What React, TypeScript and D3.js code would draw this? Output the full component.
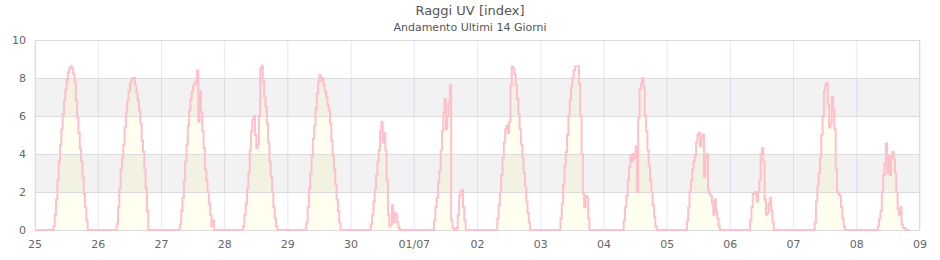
import React from "react";
import * as d3 from "d3";

const title = "Raggi UV [index]";
const subtitle = "Andamento Ultimi 14 Giorni";
const tickLabels = ["25", "26", "27", "28", "29", "30", "01/07", "02", "03", "04", "05", "06", "07", "08", "09"];
const yTicks = [0, 2, 4, 6, 8, 10];

// half-hourly UV index per day, starting at 06:00
const d25 = [0, 0, 0.2, 0.8, 1.6, 2.6, 3.6, 4.5, 5.3, 6.1, 6.8, 7.4, 7.9, 8.3, 8.5, 8.6, 8.5, 8.2, 7.8, 6.8, 5.9, 5.1, 4.3, 3.6, 2.8, 1.9, 1.2, 0.5, 0];
const d26 = [0, 0, 0.3, 1.2, 2.2, 3.2, 3.8, 4.5, 5.4, 6.2, 6.8, 7.3, 7.7, 7.9, 8.0, 8.0, 7.6, 7.2, 6.8, 6.3, 5.6, 4.7, 4.1, 3.2, 2.2, 1.0, 0];
const d27 = [0, 0, 0.3, 1.0, 1.7, 2.6, 3.6, 4.5, 5.5, 6.3, 6.9, 7.3, 7.6, 7.8, 7.7, 8.4, 5.7, 7.3, 6.2, 5.2, 4.3, 3.2, 2.6, 2.0, 1.4, 0.8, 0.2, 0.5, 0];
const d28 = [0, 0, 0.2, 0.8, 1.4, 2.2, 3.0, 4.2, 5.2, 5.8, 6.0, 5.0, 4.3, 4.5, 6.0, 8.5, 8.65, 7.8, 7.0, 6.5, 5.6, 4.6, 3.6, 2.8, 2.0, 1.2, 0.6, 0.2, 0];
const d29 = [0, 0, 0.4, 1.2, 2.2, 3.0, 3.9, 4.8, 5.5, 6.4, 7.2, 7.8, 8.15, 7.9, 8.0, 7.6, 7.3, 7.0, 6.6, 6.3, 5.6, 4.7, 3.9, 3.2, 2.4, 1.6, 1.0, 0.4, 0];
const d30 = [0, 0, 0, 0.3, 0.8, 1.5, 2.2, 2.9, 3.6, 4.2, 5.2, 5.7, 4.6, 5.1, 4.2, 2.6, 0.8, 0.2, 0.3, 1.3, 0.4, 0.9, 0.8, 0.4, 0.1, 0];
const d01 = [0, 0, 0, 0.5, 1.2, 1.7, 2.5, 3.1, 4.2, 5.2, 6.2, 6.9, 5.3, 6.0, 6.7, 7.6, 0.5, 0.1, 0, 0, 0.1, 0.8, 1.8, 2.0, 2.1, 1.2, 0.5, 0];
const d02 = [0, 0, 0, 0.6, 1.3, 2.0, 2.9, 3.8, 4.6, 5.3, 5.5, 5.1, 5.7, 7.6, 8.6, 8.5, 8.2, 7.6, 6.9, 6.1, 5.3, 4.5, 3.8, 3.0, 2.3, 1.5, 0.9, 0.4, 0];
const d03 = [0, 0, 0, 0.6, 1.4, 2.4, 3.4, 4.1, 5.0, 6.0, 6.8, 7.5, 8.0, 8.4, 8.6, 8.6, 8.6, 7.7, 6.0, 4.0, 1.9, 1.2, 1.8, 1.7, 0.6, 0];
const d04 = [0, 0, 0, 0.5, 1.2, 1.8, 2.6, 3.3, 3.9, 3.6, 4.0, 3.8, 4.4, 2.0, 5.9, 7.4, 7.7, 8.0, 7.5, 6.0, 5.2, 4.2, 3.4, 2.6, 2.0, 1.3, 0.7, 0.2, 0];
const d05 = [0, 0, 0, 0.5, 1.2, 2.0, 2.6, 3.2, 3.6, 3.9, 4.6, 5.0, 5.1, 4.4, 4.8, 5.0, 2.8, 3.9, 4.0, 2.1, 1.9, 1.8, 1.4, 0.8, 1.6, 1.0, 0.6, 0.2, 0];
const d06 = [0, 0, 0, 0.5, 1.2, 1.9, 1.9, 2.0, 1.5, 2.0, 2.6, 4.0, 4.3, 3.6, 1.6, 0.8, 0.9, 1.4, 1.7, 1.0, 0.4, 0];
const d07 = [0, 0, 0, 0, 0.4, 1.5, 2.3, 3.0, 3.8, 5.0, 6.0, 7.3, 7.6, 7.75, 6.6, 5.4, 5.6, 7.0, 6.4, 5.3, 3.2, 2.0, 1.9, 1.8, 1.2, 0.6, 0.2, 0];
const d08 = [0, 0, 0, 0, 0.2, 0.6, 1.0, 2.0, 2.9, 3.5, 4.55, 3.0, 3.9, 2.9, 3.8, 4.1, 3.7, 3.0, 2.0, 1.1, 0.8, 1.2, 0.3, 0.1, 0.1, 0];

const days = [d25, d26, d27, d28, d29, d30, d01, d02, d03, d04, d05, d06, d07, d08];
const FIRST_SLOT = 12; // 06:00
const SLOTS = 48;
const LAST_SLOT_LAST_DAY = 40; // 20:00

type P = { t: number; v: number };
const points: P[] = [];
days.forEach((arr, d) => {
  const end = d === days.length - 1 ? LAST_SLOT_LAST_DAY : SLOTS - 1;
  for (let s = 0; s <= end; s++) {
    const i = s - FIRST_SLOT;
    const v = i >= 0 && i < arr.length ? arr[i] : 0;
    points.push({ t: d + s / SLOTS, v });
  }
});

const W = 940, H = 260;
const L = 35, R = 920, T = 40, B = 230;
const font = "DejaVu Sans, Verdana, sans-serif";

export default function App() {
  const x = d3.scaleLinear().domain([0, 14]).range([L, R]);
  const y = d3.scaleLinear().domain([0, 10]).range([B, T]);
  const area = d3.area<P>().x((p) => x(p.t)).y0(y(0)).y1((p) => y(p.v)).curve(d3.curveStepAfter);
  const line = d3.line<P>().x((p) => x(p.t)).y((p) => y(p.v)).curve(d3.curveStepAfter);
  const bands = [[2, 4], [6, 8]];
  return (
    <svg width={W} height={H} style={{ position: "absolute", left: 0, top: 0, background: "#fff" }} fontFamily={font}>
      <rect x={0} y={0} width={W} height={H} fill="#fff" />
      <text x={470} y={15} textAnchor="middle" fontSize={13} fill="#555">{title}</text>
      <text x={470} y={31} textAnchor="middle" fontSize={11} fill="#555">{subtitle}</text>
      {tickLabels.map((_, i) => (
        <line key={"v" + i} x1={x(i)} x2={x(i)} y1={T} y2={B} stroke="#e8e6f8" strokeWidth={1} />
      ))}
      <path d={area(points) || ""} fill="#fffff0" />
      {bands.map(([a, b], i) => (
        <rect key={"b" + i} x={L} width={R - L} y={y(b)} height={y(a) - y(b)} fill="#000" fillOpacity={0.05} />
      ))}
      {yTicks.map((t) => (
        <line key={"h" + t} x1={L} x2={R} y1={Math.round(y(t)) + 0.5} y2={Math.round(y(t)) + 0.5} stroke="#dcdcdc" strokeWidth={1} />
      ))}
      <line x1={L + 0.5} x2={L + 0.5} y1={T} y2={B} stroke="#dcdcdc" />
      <line x1={R - 0.5} x2={R - 0.5} y1={T} y2={B} stroke="#dcdcdc" />
      <path d={line(points) || ""} fill="none" stroke="#ffc0cb" strokeWidth={2} />
      {yTicks.map((t) => (
        <text key={"yt" + t} x={26} y={y(t)} dy="0.35em" textAnchor="end" fontSize={11} fill="#666">{t}</text>
      ))}
      {tickLabels.map((lab, i) => (
        <text key={"xt" + i} x={x(i)} y={248} textAnchor="middle" fontSize={11} fill="#666">{lab}</text>
      ))}
    </svg>
  );
}
